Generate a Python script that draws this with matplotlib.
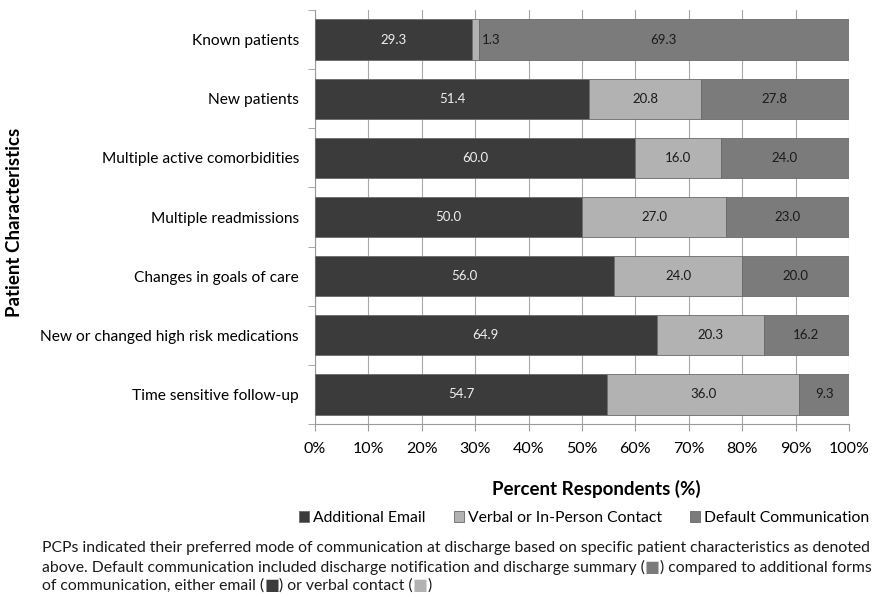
import matplotlib
matplotlib.use("Agg")
import matplotlib.pyplot as plt
from matplotlib.patches import Patch
import numpy as np

plt.rcParams['font.family'] = ['Lato', 'DejaVu Sans']

categories = ["Known patients", "New patients", "Multiple active comorbidities",
              "Multiple readmissions", "Changes in goals of care",
              "New or changed high risk medications", "Time sensitive follow-up"]
email = [29.3, 51.4, 60.0, 50.0, 56.0, 64.9, 54.7]
verbal = [1.3, 20.8, 16.0, 27.0, 24.0, 20.3, 36.0]
default = [69.3, 27.8, 24.0, 23.0, 20.0, 16.2, 9.3]
series_names = ["Additional Email", "Verbal or In-Person Contact", "Default Communication"]
colors = ["#3b3b3b", "#b2b2b2", "#7b7b7b"]
text_colors = ["#f0f0f0", "#1a1a1a", "#1a1a1a"]
x_ticks = list(range(0, 101, 10))
x_ticklabels = [f"{t}%" for t in x_ticks]

W, H = 884, 597
fig = plt.figure(figsize=(W / 100, H / 100), dpi=100)
ax = fig.add_axes([315 / W, 1 - 424 / H, (849 - 315) / W, (424 - 10) / H])

data = np.array([email, verbal, default])
totals = data.sum(axis=0)
pct = data / totals * 100
y = np.arange(len(categories))
left = np.zeros(len(categories))
for i in range(3):
    ax.barh(y, pct[i], left=left, height=0.68, color=colors[i],
            edgecolor="#6a6a6a", linewidth=0.6, zorder=3, label=series_names[i])
    for j in range(len(categories)):
        if pct[i][j] < 4:
            xc, ha = left[j] + pct[i][j] + 0.6, "left"
        else:
            xc, ha = left[j] + pct[i][j] / 2, "center"
        ax.text(xc, y[j], f"{data[i][j]:.1f}", ha=ha, va="center",
                fontsize=9.5, color=text_colors[i], zorder=4)
    left += pct[i]

ax.set_xlim(0, 100)
ax.set_ylim(len(categories) - 0.5, -0.5)
ax.set_xticks(x_ticks)
ax.set_xticklabels(x_ticklabels, fontsize=11.5)
ax.set_yticks(y)
ax.set_yticklabels(categories, fontsize=11.2)
ax.set_yticks(np.arange(-0.5, len(categories), 1), minor=True)
ax.tick_params(axis="y", which="major", length=0, pad=11.5)
ax.tick_params(axis="y", which="minor", length=5, color="#999999", direction="out")
ax.tick_params(axis="x", which="major", length=5, color="#999999", direction="out", pad=8)
ax.xaxis.grid(True, color="#a8a8a8", linewidth=0.8, zorder=0)
ax.set_axisbelow(True)
for s in ["top", "right"]:
    ax.spines[s].set_visible(False)
for s in ["left", "bottom"]:
    ax.spines[s].set_color("#999999")
    ax.spines[s].set_linewidth(0.8)

fig.text(596 / W, 1 - 489 / H, "Percent Respondents (%)", ha="center", va="center",
         fontsize=13.5, fontweight="bold")
fig.text(15 / W, 1 - 222 / H, "Patient Characteristics", ha="center", va="center",
         rotation=90, fontsize=13.5, fontweight="bold")

handles = [Patch(facecolor=c, edgecolor="#6a6a6a", linewidth=0.6) for c in colors]
fig.legend(handles, series_names, loc="center", bbox_to_anchor=(584 / W, 1 - 518 / H),
           ncol=3, frameon=False, fontsize=11.3, handlelength=0.65, handleheight=0.65,
           handletextpad=0.25, columnspacing=1.8, borderaxespad=0, borderpad=0)

# caption
cap_fs = 11.3
lines_y = [548, 567, 586]
renderer = fig.canvas.get_renderer()

def seq(parts, yy):
    xpix = 42
    for txt, col in parts:
        fam = ['DejaVu Sans'] if txt == "■" else ['Lato', 'DejaVu Sans']
        t = fig.text(xpix / W, 1 - yy / H, txt, fontsize=cap_fs, va="center", ha="left",
                     color=col, family=fam)
        bb = t.get_window_extent(renderer=renderer)
        xpix += bb.width

seq([("PCPs indicated their preferred mode of communication at discharge based on specific patient characteristics as denoted", "#1a1a1a")], lines_y[0])
seq([("above. Default communication included discharge notification and discharge summary (", "#1a1a1a"),
     ("■", colors[2]), (") compared to additional forms", "#1a1a1a")], lines_y[1])
seq([("of communication, either email (", "#1a1a1a"), ("■", colors[0]),
     (") or verbal contact (", "#1a1a1a"), ("■", colors[1]), (")", "#1a1a1a")], lines_y[2])

fig.savefig("out.png", dpi=100)
